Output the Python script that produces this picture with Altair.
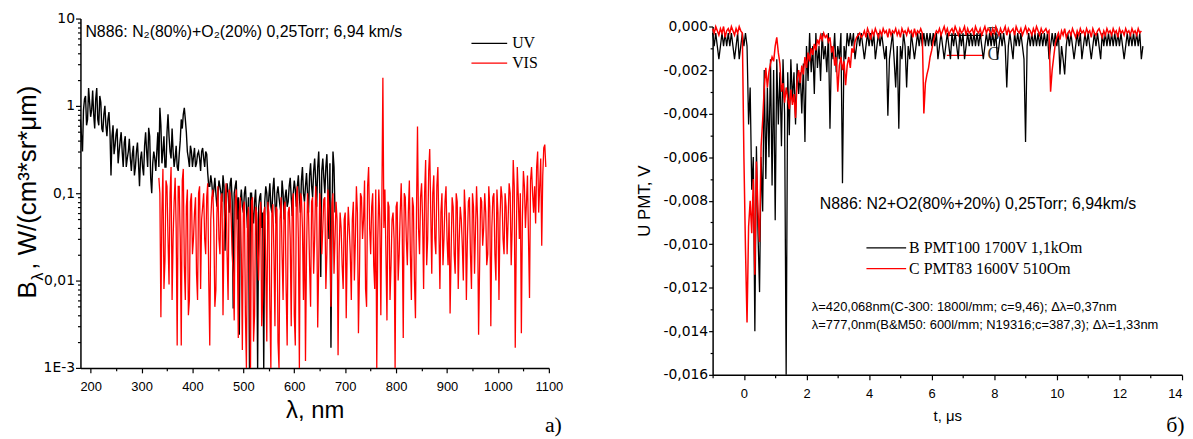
import altair as alt
import pandas as pd
import numpy as np

# ---------------- Panel a): spectra (W/(cm^3*sr*um)) ----------------
# samples at 180, 184, ... nm
UV_START, UV_STEP = 180, 4
UV_VALUES = [
    0.7, 0.3, 1.2, 0.6, 1.6, 0.75, 1.5, 0.55, 1.6, 0.6,
    1.1, 0.5, 1.0, 0.45, 0.85, 0.16, 0.6, 0.35, 0.55, 0.3,
    0.5, 0.2, 0.45, 0.25, 0.42, 0.18, 0.35, 0.2, 0.38, 0.12,
    0.3, 0.16, 0.5, 0.2, 0.45, 0.1, 0.3, 0.18, 0.5, 0.95,
    0.22, 0.45, 0.2, 0.8, 0.3, 0.55, 0.2, 0.35, 0.18, 0.4,
    0.55, 0.95, 0.5, 0.25, 0.35, 0.2, 0.33, 0.22, 0.3, 0.18,
    0.33, 0.2, 0.28, 0.12, 0.16, 0.09, 0.15, 0.07, 0.14, 0.1,
    0.16, 0.022, 0.13, 0.06, 0.15, 0.0048, 0.12, 0.05, 0.0024, 0.11,
    0.06, 0.12, 0.04, 0.0008, 0.1, 0.045, 0.11, 0.0008, 0.09, 0.04,
    0.0008, 0.12, 0.05, 0.13, 0.06, 0.15, 0.045, 0.12, 0.07, 0.14,
    0.05, 0.11, 0.08, 0.15, 0.055, 0.14, 0.07, 0.16, 0.06, 0.2,
    0.08, 0.17, 0.06, 0.22, 0.09, 0.25, 0.07, 0.3, 0.011, 0.25,
    0.1, 0.28, 0.03, 0.0017, 0.3, 0.06,
]
# samples at 182, 186, ... nm
UV_MID_START = 182
UV_MID = [
    0.45, 0.9, 1.3, 0.7, 1.1, 0.9, 0.8, 1.2, 0.7, 1.3,
    0.55, 0.8, 0.6, 0.7, 0.5, 0.45, 0.28, 0.48, 0.22, 0.4,
    0.3, 0.38, 0.2, 0.3, 0.25, 0.28, 0.16, 0.3, 0.22, 0.25,
    0.2, 0.35, 0.3, 0.56, 0.15, 0.22, 0.25, 0.3, 0.2, 0.6,
    0.3, 0.2, 0.5, 0.45, 0.25, 0.3, 0.25, 0.2, 0.28, 0.7,
    0.8, 0.7, 0.3, 0.2, 0.3, 0.26, 0.2, 0.28, 0.25, 0.3,
    0.25, 0.3, 0.17, 0.12, 0.13, 0.11, 0.1, 0.09, 0.12, 0.08,
    0.12, 0.09, 0.1, 0.13, 0.08, 0.1, 0.14, 0.09, 0.08, 0.07,
    0.1, 0.07, 0.09, 0.1, 0.06, 0.08, 0.05, 0.07, 0.1, 0.06,
    0.08, 0.1, 0.09, 0.07, 0.11, 0.08, 0.1, 0.09, 0.06, 0.1,
    0.09, 0.07, 0.12, 0.09, 0.1, 0.11, 0.12, 0.09, 0.14, 0.1,
    0.12, 0.1, 0.16, 0.12, 0.18, 0.14, 0.2, 0.12, 0.18, 0.15,
    0.2, 0.12, 0.22, 0.05, 0.2,
]
# samples at 334, 338, ... nm
VIS_START, VIS_STEP = 334, 4
VIS_VALUES = [
    0.15, 0.0038, 0.19, 0.017, 0.12, 0.009, 0.2, 0.03, 0.15, 0.0018,
    0.12, 0.0018, 0.19, 0.006, 0.11, 0.006, 0.1, 0.03, 0.09, 0.006,
    0.12, 0.05, 0.1, 0.02, 0.13, 0.0018, 0.09, 0.04, 0.0078, 0.12,
    0.02, 0.1, 0.035, 0.13, 0.006, 0.1, 0.02, 0.0035, 0.11, 0.0022,
    0.09, 0.0016, 0.08, 0.0008, 0.07, 0.0008, 0.09, 0.004, 0.06, 0.01,
    0.08, 0.0065, 0.07, 0.002, 0.06, 0.0009, 0.075, 0.003, 0.065, 0.001,
    0.09, 0.006, 0.08, 0.0018, 0.07, 0.003, 0.1, 0.0018, 0.12, 0.0008,
    0.09, 0.006, 0.0012, 0.1, 0.015, 0.08, 0.012, 0.12, 0.0029, 0.1,
    0.02, 0.085, 0.008, 0.11, 0.03, 0.075, 0.012, 0.08, 0.0014, 0.06,
    0.015, 0.05, 0.0037, 0.07, 0.02, 0.05, 0.01, 0.12, 0.0025, 0.1,
    0.03, 0.14, 0.005, 0.2, 0.02, 0.1, 0.008, 0.0008, 0.11, 0.004,
    2.1, 0.11, 0.0035, 0.07, 0.015, 0.06, 0.001, 0.08, 0.02, 0.13,
    0.0022, 0.09, 0.015, 0.14, 0.006, 0.07, 0.0037, 0.58, 0.02, 0.13,
    0.008, 0.24, 0.03, 0.32, 0.012, 0.16, 0.02, 0.2, 0.008, 0.1,
    0.03, 0.12, 0.015, 0.0042, 0.09, 0.02, 0.1, 0.008, 0.07, 0.025,
    0.11, 0.006, 0.08, 0.02, 0.1, 0.012, 0.12, 0.0024, 0.09, 0.025,
    0.1, 0.015, 0.12, 0.003, 0.09, 0.02, 0.11, 0.006, 0.12, 0.03,
    0.1, 0.02, 0.13, 0.015, 0.24, 0.0017, 0.2, 0.03, 0.0025, 0.18,
    0.04, 0.16, 0.0063, 0.2, 0.06, 0.045, 0.3, 0.12, 0.025, 0.33,
    0.2,
]
# samples at 336, 340, ... nm
VIS_MID_START = 336
VIS_MID = [
    0.1, 0.06, 0.008, 0.14, 0.03, 0.1, 0.006, 0.08, 0.04, 0.12,
    0.03, 0.14, 0.015, 0.07, 0.004, 0.08, 0.02, 0.06, 0.012, 0.1,
    0.008, 0.07, 0.03, 0.09, 0.01, 0.05, 0.11, 0.005, 0.06, 0.03,
    0.09, 0.004, 0.07, 0.02, 0.11, 0.05, 0.012, 0.08, 0.03, 0.06,
    0.02, 0.07, 0.004, 0.05, 0.012, 0.08, 0.002, 0.07, 0.02, 0.05,
    0.003, 0.06, 0.015, 0.08, 0.005, 0.06, 0.02, 0.07, 0.002, 0.05,
    0.02, 0.07, 0.008, 0.06, 0.03, 0.08, 0.004, 0.09, 0.03, 0.1,
    0.04, 0.08, 0.02, 0.06, 0.005, 0.09, 0.03, 0.07, 0.015, 0.06,
    0.04, 0.09, 0.02, 0.07, 0.005, 0.1, 0.03, 0.05, 0.02, 0.04,
    0.008, 0.06, 0.025, 0.04, 0.006, 0.08, 0.03, 0.06, 0.012, 0.09,
    0.05, 0.008, 0.12, 0.04, 0.07, 0.015, 0.11, 0.03, 0.05, 0.08,
    0.04, 0.02, 0.08, 0.006, 0.05, 0.03, 0.07, 0.01, 0.06, 0.04,
    0.1, 0.03, 0.06, 0.02, 0.09, 0.01, 0.06, 0.04, 0.09, 0.05,
    0.1, 0.015, 0.18, 0.06, 0.1, 0.03, 0.12, 0.04, 0.06, 0.015,
    0.08, 0.03, 0.06, 0.02, 0.07, 0.012, 0.08, 0.03, 0.05, 0.01,
    0.06, 0.03, 0.09, 0.008, 0.07, 0.04, 0.05, 0.015, 0.08, 0.04,
    0.06, 0.02, 0.07, 0.04, 0.1, 0.01, 0.06, 0.05, 0.09, 0.02,
    0.07, 0.05, 0.1, 0.04, 0.12, 0.03, 0.09, 0.1, 0.05, 0.12,
    0.08, 0.03, 0.14, 0.1, 0.12, 0.2, 0.06, 0.25, 0.16, 0.36,
]

# ---------------- Panel b): PMT signals (units of 0.1 mV, negative) ----------------
T_START, T_STEP = -1.0, 0.05
B_MAG = [
    3, 9, 3, 9, 15, 9, 3, 9, 3, 9, 3, 9, 3, 9, 15, 9, 3, 15, 9, 3, 9, 3,
    9, 45, 28, 75, 60, 140, 55, 95, 122, 60,
    85, 20, 70, 28, 60, 15, 73, 20, 89, 15,
    45, 21, 55, 15, 40, 160, 21, 50, 15, 34,
    21, 45, 17, 31, 21, 40, 17, 53, 9, 25,
    3, 21, 9, 31, 3, 19, 9, 25, 3, 15,
    9, 21, 3, 47, 9, 15, 3, 21, 9, 15,
    3, 72, 9, 15, 3, 9,
    3, 9, 3, 15, 9, 3, 9, 3, 9, 15,
    9, 3, 9, 3, 9, 3, 15, 9, 3, 9,
    3, 9, 15, 9, 41, 15, 9, 3, 15, 28,
    9, 47, 9, 15, 3, 9, 28, 9, 15, 3,
    9, 15, 9, 3, 9, 3, 9, 3, 9, 3,
    9, 3, 9, 3, 9, 3, 15, 9, 3, 9,
    15, 9, 3, 9, 15, 3, 9, 3, 9, 15,
    3, 9, 3, 15, 9, 3, 9, 3, 9, 3,
    9, 3, 9, 3, 9, 15, 9, 3, 9, 3,
    9, 3, 9, 3, 15, 9, 3, 9, 3, 9,
    28, 9, 3, 9, 15, 3, 9, 3, 9, 3,
    9, 15, 53, 9, 3, 9, 3, 9, 3, 9,
    3, 9, 3, 9, 3, 9, 3, 15, 9, 3,
    9, 3, 9, 3, 22, 9, 15, 22, 9, 3,
    9, 3, 9, 15, 9, 3, 9, 3, 15, 9,
    3, 9, 3, 9, 15, 9, 3, 9, 3, 9,
    15, 3, 9, 3, 9, 3, 9, 3, 9, 3,
    9, 3, 9, 3, 9, 15, 9, 3, 9, 3,
    9, 3, 9, 3, 9, 3, 15, 9,
]
C_MAG = [
    1, 3, 0, 2, 4, 1, 3, 0, 5, 2, 1, 3, 0, 2, 4, 1, 3, 0, 2,
    3,
    60, 102, 136, 92, 80, 95, 70, 114, 62, 85,
    99, 55, 43, 28, 19, 28, 21, 17, 14, 16,
    9, 5, 12, 17, 30, 26, 35, 28, 33, 38,
    29, 36, 31, 42, 25, 20, 26, 18, 22, 14,
    19, 12, 16, 10, 13, 8, 11, 6, 8, 4,
    6, 3, 5, 4, 7, 5, 12, 9, 18, 14,
    30, 18, 14, 20, 16, 27, 18, 14, 19, 10,
    12, 7, 5, 4, 3, 5,
    4, 2, 5, 1, 3, 6, 2, 4, 1, 3,
    5, 2, 4, 1, 3, 2, 5, 1, 4, 2,
    3, 1, 4, 2, 5, 1, 3, 2, 4, 1,
    3, 2, 5, 1, 4, 2, 3, 1,
    3, 40, 26, 22, 19, 14, 11, 7, 4, 2,
    3, 1, 4, 2, 0, 3, 1, 4, 2, 1,
    3, 0, 2, 4, 1, 3, 2, 0, 4, 1,
    3, 2, 1, 4, 0, 2, 3, 1, 4, 2,
    0, 3, 1, 2, 4, 1, 3, 0, 2, 4,
    1, 3, 2, 0, 4, 1, 3, 2, 1, 4,
    0, 2, 3, 1, 4, 2, 0, 3, 1, 2,
    4, 1, 3, 0, 2, 4, 1, 3, 2, 1,
    3, 2,
    30, 20, 14, 8, 5,
    3, 6, 2, 4, 1, 5, 3, 2, 4, 1,
    3, 5, 2, 4, 1, 3, 2, 4, 1, 3,
    2, 5, 1, 3, 4, 2, 1, 3, 5, 2,
    4, 1, 3, 2, 4, 1, 3, 2, 5, 1,
    3, 2, 4, 1, 3, 2, 4, 1, 3, 2,
    4, 1, 3, 2,
]

# ---------------- axis ticks ----------------
LEFT_X_TICKS = list(range(200, 1101, 50))
LEFT_Y_MAJOR = [0.001, 0.01, 0.1, 1, 10]
LEFT_Y_TICKS = LEFT_Y_MAJOR + [round(m * 10.0 ** e, 6) for e in range(-3, 1) for m in range(2, 10)]
RIGHT_X_TICKS = list(range(-1, 15))
RIGHT_Y_TICKS = [round(-0.001 * k, 3) for k in range(0, 17)]


def spectrum(start, values, mid_start, mid_values):
    a = pd.DataFrame({"nm": start + 4 * np.arange(len(values)), "B": values})
    b = pd.DataFrame({"nm": mid_start + 4 * np.arange(len(mid_values)), "B": mid_values})
    return pd.concat([a, b]).sort_values("nm").reset_index(drop=True)


uv = spectrum(UV_START, UV_VALUES, UV_MID_START, UV_MID)
vis = spectrum(VIS_START, VIS_VALUES, VIS_MID_START, VIS_MID)
pb = pd.DataFrame({"t": T_START + T_STEP * np.arange(len(B_MAG)), "U": -np.array(B_MAG) / 1e4})
pc = pd.DataFrame({"t": T_START + T_STEP * np.arange(len(C_MAG)), "U": -np.array(C_MAG) / 1e4})

SANS = "Liberation Sans"
SERIF = "Liberation Serif"


def cond(test, major, minor):
    return {"condition": {"test": test, "value": major}, "value": minor}


xa_scale = alt.Scale(domain=[180, 1100], range=[0, 472], nice=False, zero=False)
ya_scale = alt.Scale(type="log", domain=[0.001, 10], range=[352, 0], nice=False, clamp=True)
xb_scale = alt.Scale(domain=[-1, 14], range=[637, 1110], nice=False, zero=False)
yb_scale = alt.Scale(domain=[-0.016, 0], range=[359, 8], nice=False, zero=False, clamp=True)

xa_axis = alt.Axis(
    orient="bottom", offset=-7, values=LEFT_X_TICKS,
    labelExpr="datum.value % 100 == 0 ? format(datum.value, 'd') : ''",
    tickSize=cond("datum.value % 100 == 0", 5, 3),
    labelPadding=8, labelFontSize=13, labelFlush=False, labelOverlap=False,
    title="λ, nm", titleFontSize=24, titlePadding=5,
)
ya_axis = alt.Axis(
    orient="left", values=LEFT_Y_TICKS,
    labelExpr=("datum.value == 10 ? '10' : datum.value == 1 ? '1' : datum.value == 0.1 ? '0,1' : "
               "datum.value == 0.01 ? '0,01' : datum.value == 0.001 ? '1E-3' : ''"),
    tickSize=cond("indexof([0.001, 0.01, 0.1, 1, 10], datum.value) >= 0", 5, 3),
    labelPadding=1, labelFont="DejaVu Sans", labelFontSize=14, labelOverlap=False, title=None,
)
xb_axis = alt.Axis(
    orient="bottom", values=RIGHT_X_TICKS,
    labelExpr="datum.value >= 0 && datum.value % 2 == 0 ? format(datum.value, 'd') : ''",
    tickSize=cond("abs(datum.value) % 2 == 0", 5, 3),
    labelPadding=8, labelFontSize=13, labelFlush=True, labelOverlap=False,
    title="t, μs", titleFontSize=15, titlePadding=8,
)
yb_axis = alt.Axis(
    orient="left", offset=-637, values=RIGHT_Y_TICKS,
    labelExpr=("abs(round(datum.value * 1000)) % 2 == 0 ? "
               "(datum.value < -0.0000001 ? '-' : '') + replace(format(abs(datum.value), '.3f'), '.', ',') : ''"),
    tickSize=cond("abs(round(datum.value * 1000)) % 2 == 0", 4, 2.5),
    labelPadding=1, labelFont="DejaVu Sans", labelFontSize=14, labelOverlap=False,
    title="U PMT, V", titleFontSize=17, titlePadding=9,
)


def txt(s, x, y, size, font=SANS, color="black", align="left", angle=0, baseline="middle"):
    return alt.Chart(pd.DataFrame({"s": [s]})).mark_text(
        align=align, baseline=baseline, fontSize=size, font=font, color=color, angle=angle
    ).encode(x=alt.value(x), y=alt.value(y), text="s:N")


def seg(x1, x2, y, color, w=1.3):
    return alt.Chart(pd.DataFrame({"a": [0]})).mark_rule(color=color, strokeWidth=w).encode(
        x=alt.value(x1), x2=alt.value(x2), y=alt.value(y)
    )


uv_line = alt.Chart(uv).mark_line(color="black", strokeWidth=1.4).encode(
    x=alt.X("nm:Q", scale=xa_scale, axis=xa_axis),
    y=alt.Y("B:Q", scale=ya_scale, axis=ya_axis),
)
vis_line = alt.Chart(vis).mark_line(color="#ff0000", strokeWidth=1.3).encode(
    x=alt.X("nm:Q", scale=xa_scale, axis=xa_axis),
    y=alt.Y("B:Q", scale=ya_scale, axis=ya_axis),
)

left = alt.layer(
    uv_line, vis_line,
    txt("N886: N₂(80%)+O₂(20%) 0,25Torr; 6,94 km/s", 5, 14, 16),
    seg(394, 430, 25, "black"), txt("UV", 435, 25, 16, font=SERIF),
    seg(394, 430, 45, "#ff0000"), txt("VIS", 435, 45, 16, font=SERIF),
    txt("B", -45, 282, 26, angle=270, baseline="alphabetic"),
    txt("λ", -38, 264, 16, angle=270, baseline="alphabetic"),
    txt(", W/(cm³*sr*μm)", -45, 253, 26, angle=270, baseline="alphabetic"),
    txt("a)", 468, 410, 22, font=SERIF),
)

b_line = alt.Chart(pb).mark_line(color="black", strokeWidth=1.3).encode(
    x=alt.X("t:Q", scale=xb_scale, axis=xb_axis),
    y=alt.Y("U:Q", scale=yb_scale, axis=yb_axis),
)
c_line = alt.Chart(pc).mark_line(color="#ff0000", strokeWidth=1.5).encode(
    x=alt.X("t:Q", scale=xb_scale, axis=xb_axis),
    y=alt.Y("U:Q", scale=yb_scale, axis=yb_axis),
)

right = alt.layer(
    seg(873, 910, 17, "black"), txt("B", 914, 17, 18, font=SERIF, color="#333333"),
    seg(873, 910, 37, "#ff0000"), txt("C", 914, 37, 18, font=SERIF, color="#333333"),
    b_line, c_line,
    txt("N886: N2+O2(80%+20%) 0,25Torr; 6,94km/s", 745, 187, 16),
    seg(792, 832, 231, "black"), txt("B PMT100 1700V 1,1kOm", 835, 231, 16, font=SERIF),
    seg(792, 832, 252, "#ff0000"), txt("C PMT83 1600V 510Om", 835, 252, 16, font=SERIF),
    txt("λ=420,068nm(C-300: 1800l/mm; c=9,46); Δλ=0,37nm", 737, 291, 13),
    txt("λ=777,0nm(B&M50: 600l/mm; N19316;c=387,3); Δλ=1,33nm", 737, 309, 13),
    txt("б)", 1094, 410, 22, font=SERIF),
)

chart = (
    alt.layer(left, right)
    .resolve_scale(x="independent", y="independent")
    .properties(width=1110, height=359, padding={"left": 6, "top": 2, "right": 0, "bottom": 0})
    .configure_view(stroke=None)
    .configure_axis(
        grid=False, domainColor="black", tickColor="black", labelColor="black",
        titleColor="black", domainWidth=1.5, tickWidth=1.2, labelFont=SANS,
        titleFont=SANS, titleFontWeight="normal",
    )
)

chart.save("out.html", embed_options={"renderer": "svg", "actions": False})
